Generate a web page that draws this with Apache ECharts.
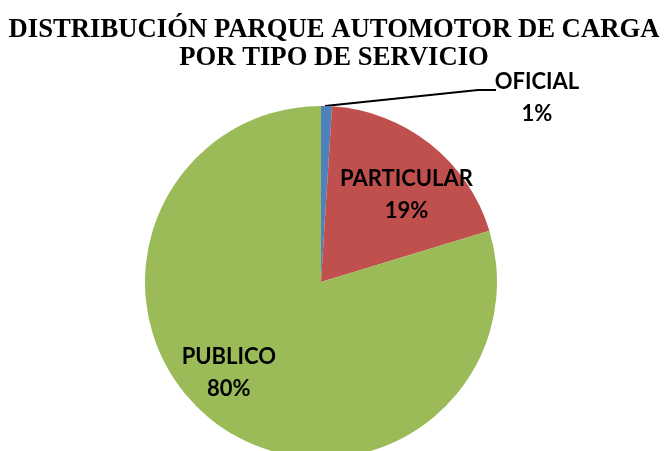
<!DOCTYPE html>
<html><head><meta charset="utf-8">
<script src="https://cdn.jsdelivr.net/npm/echarts@6/dist/echarts.min.js"></script>
<style>html,body{margin:0;padding:0;background:#fff}#c{width:668px;height:451px}</style>
</head><body><div id="c"></div>
<script>
const categories = ['OFICIAL', 'PARTICULAR', 'PUBLICO'];
const values = [1.0, 19.3, 79.7];
const percentLabels = ['1%', '19%', '80%'];
const colors = ['#4F81BD', '#C0504D', '#9BBB59'];

const chart = echarts.init(document.getElementById('c'));
const labelStyle = {fontFamily: 'Lato, "Open Sans", sans-serif', fontWeight: 'bold', fontSize: 22, color: '#000', lineHeight: 32};
chart.setOption({
  animation: false,
  title: {
    text: 'DISTRIBUCIÓN PARQUE AUTOMOTOR DE CARGA\nPOR TIPO DE SERVICIO',
    left: 'center', top: 11,
    textStyle: {fontFamily: '"Liberation Serif", "Times New Roman", serif', fontWeight: 'bold', fontSize: 26.7, lineHeight: 28, color: '#000'}
  },
  series: [{
    type: 'pie',
    center: [321, 282],
    radius: 176,
    startAngle: 90,
    clockwise: true,
    data: categories.map((n, i) => ({
      name: n, value: values[i],
      itemStyle: {color: colors[i]},
      label: i === 0 ? {position: 'outside'} : {position: 'inside', offset: i === 1 ? [29, -16] : [-38, 18]},
      labelLine: {show: i === 0, lineStyle: {color: '#000', width: 1.8}}
    })),
    label: Object.assign({
      formatter: p => p.name + '\n' + percentLabels[p.dataIndex]
    }, labelStyle),
    labelLayout: function (p) {
      if (p.dataIndex === 0) {
        return {x: 537, y: 98, align: 'center', verticalAlign: 'middle',
          labelLinePoints: [[325, 106], [478, 90], [496, 90]]};
      }
      return {};
    },
    emphasis: {disabled: true}
  }]
});
</script></body></html>
